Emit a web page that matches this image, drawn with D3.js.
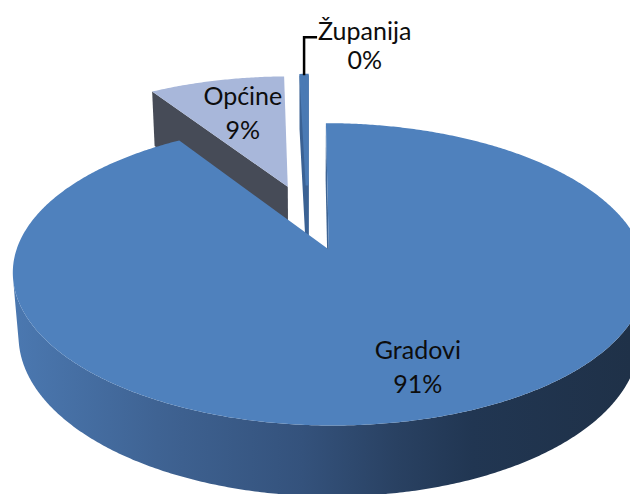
<!DOCTYPE html>
<html>
<head>
<meta charset="utf-8">
<script src="https://cdn.jsdelivr.net/npm/d3@7"></script>
<style>
  body { margin: 0; background: #fff; }
  svg { display: block; }
  text { font-family: Lato, "Open Sans", sans-serif; font-size: 25px; fill: #0d0d0d; }
</style>
</head>
<body>
<script>
// data
const categories = ['Gradovi', 'Općine', 'Županija'];
const values = [91.0, 8.6, 0.4];

// colours per slice
const topColors = ['#4f81bd', '#a8b7da', '#4a7ab4'];
const cutColors = ['#3d6494', '#464b57', '#3b6294'];

const width = 630;
const height = 494;

// 3d view
const cx = 308, cy = 217;
const radius = 301, depth = 70, explode = 72;
const tilt = 27 * Math.PI / 180, dist = 1700;
const kS = Math.sin(tilt), kC = Math.cos(tilt);

// where the inside labels sit: fraction of the radius, and a turn (degrees) off the slice middle
const labelFrac = [0.75, 0.65, null];
const labelTurn = [-2.8, 1.2, 0];

function toView(x, h, z) {
  return [x, z * kS - h * kC, z * kC + h * kS];
}
function project(x, h, z) {
  const v = toView(x, h, z);
  const s = dist / (dist - v[2]);
  return [cx + v[0] * s, cy + v[1] * s];
}
// is a face at world point p with world normal n (x, z) turned to the camera?
function facing(p, nx, nz) {
  const P = toView(p[0], p[1], p[2]);
  const N = [nx, nz * kS, nz * kC];
  return (-P[0]) * N[0] + (-P[1]) * N[1] + (dist - P[2]) * N[2] > 0;
}
function samples(a0, a1) {
  const n = Math.max(2, Math.ceil((a1 - a0) / (Math.PI / 360)));
  return d3.range(n + 1).map(j => a0 + (a1 - a0) * j / n);
}

const svg = d3.select('body')
  .append('svg')
  .attr('width', width)
  .attr('height', height);

const grad = svg.append('defs')
  .append('linearGradient')
  .attr('id', 'sideGrad')
  .attr('gradientUnits', 'userSpaceOnUse')
  .attr('x1', 0).attr('x2', width)
  .attr('y1', 0).attr('y2', 0);
[[0, '#4c7ab3'], [0.25, '#3f6393'], [0.48, '#34527c'], [0.63, '#294162'],
 [0.75, '#213652'], [1, '#1f3148']].forEach(function (s) {
  grad.append('stop').attr('offset', s[0]).attr('stop-color', s[1]);
});

const pie = d3.pie().sort(null).value(d => d);
const line = d3.line();
const total = d3.sum(values);

const slices = pie(values).map(function (a, i) {
  const mid = (a.startAngle + a.endAngle) / 2;
  const ox = explode * Math.sin(mid);
  const oz = -explode * Math.cos(mid);
  const world = (t, r, h) => [ox + r * Math.sin(t), h, oz - r * Math.cos(t)];
  const pt = (t, r, h) => project(...world(t, r, h));
  return { i, a, mid, ox, oz, world, pt };
});

// back slices first
slices.slice().sort((p, q) => p.oz - q.oz).forEach(function (sl) {
  const g = svg.append('g');
  const a0 = sl.a.startAngle, a1 = sl.a.endAngle;
  const thin = (a1 - a0) < 0.05;
  const strokeW = thin ? 3 : 0;

  // cut faces
  [[a0, -Math.cos(a0), -Math.sin(a0)], [a1, Math.cos(a1), Math.sin(a1)]].forEach(function (f) {
    if (!facing(sl.world(f[0], radius / 2, -depth / 2), f[1], f[2])) return;
    const poly = [sl.pt(f[0], 0, 0), sl.pt(f[0], radius, 0),
                  sl.pt(f[0], radius, -depth), sl.pt(f[0], 0, -depth)];
    g.append('path')
      .attr('d', line(poly) + 'Z')
      .attr('fill', cutColors[sl.i])
      .attr('stroke', cutColors[sl.i])
      .attr('stroke-width', strokeW);
  });

  // outer side, only the parts turned to the camera
  const ts = samples(a0, a1);
  let run = [];
  const runs = [];
  ts.forEach(function (t) {
    if (facing(sl.world(t, radius, -depth / 2), Math.sin(t), -Math.cos(t))) {
      run.push(t);
    } else if (run.length) {
      runs.push(run); run = [];
    }
  });
  if (run.length) runs.push(run);
  runs.forEach(function (r) {
    if (r.length < 2) return;
    const poly = r.map(t => sl.pt(t, radius, 0))
      .concat(r.slice().reverse().map(t => sl.pt(t, radius, -depth)));
    g.append('path')
      .attr('d', line(poly) + 'Z')
      .attr('fill', sl.i === 0 ? 'url(#sideGrad)' : cutColors[sl.i])
      .attr('stroke', thin ? cutColors[sl.i] : 'none')
      .attr('stroke-width', strokeW);
  });

  // top face
  const top = [sl.pt(0, 0, 0)].concat(ts.map(t => sl.pt(t, radius, 0)));
  g.append('path')
    .attr('d', line(top) + 'Z')
    .attr('fill', topColors[sl.i])
    .attr('stroke', thin ? topColors[sl.i] : 'none')
    .attr('stroke-width', strokeW);
});

// labels
slices.forEach(function (sl) {
  const pct = Math.round(values[sl.i] / total * 100) + '%';
  if (labelFrac[sl.i] !== null) {
    const t0 = sl.mid + labelTurn[sl.i] * Math.PI / 180;
    const p = sl.pt(t0, radius * labelFrac[sl.i], 0);
    const t = svg.append('text').attr('text-anchor', 'middle');
    t.append('tspan').attr('x', p[0]).attr('y', p[1] - 9).text(categories[sl.i]);
    t.append('tspan').attr('x', p[0]).attr('y', p[1] + 25).text(pct);
  } else {
    // small slice: label above with a leader line
    const p = sl.pt(sl.mid, radius, 0);
    const ly = p[1] - 38;
    const lx = p[0] + 13;
    svg.append('path')
      .attr('d', line([[p[0], p[1]], [p[0], ly], [lx, ly]]))
      .attr('fill', 'none')
      .attr('stroke', '#000')
      .attr('stroke-width', 2.5);
    const name = svg.append('text')
      .attr('x', lx + 1)
      .attr('y', ly + 3)
      .text(categories[sl.i]);
    const w = name.node().getComputedTextLength();
    svg.append('text')
      .attr('text-anchor', 'middle')
      .attr('x', lx + 1 + w / 2)
      .attr('y', ly + 32)
      .text(pct);
  }
});
</script>
</body>
</html>
